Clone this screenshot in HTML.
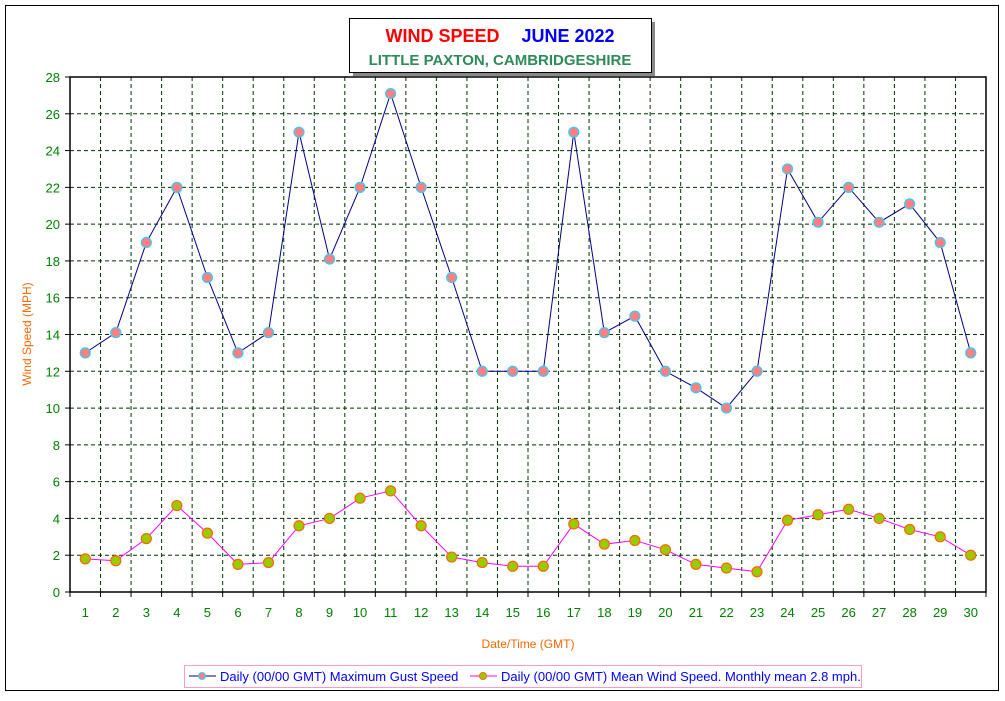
<!DOCTYPE html>
<html><head><meta charset="utf-8"><style>
body{margin:0;background:#fff;font-family:"Liberation Sans",Arial,sans-serif}
svg text{font-family:"Liberation Sans",Arial,sans-serif}
</style></head><body>
<svg id="c" width="1005" height="696" xmlns="http://www.w3.org/2000/svg">
<rect x="5.5" y="5.5" width="993" height="685" fill="#fff" stroke="#000"/>
<g>
<rect x="353" y="22" width="302" height="54" fill="#888"/>
<rect x="349.5" y="18.5" width="302" height="54" fill="#fff" stroke="#000"/>
<text x="500" y="42" text-anchor="middle" font-size="18" font-weight="bold"><tspan fill="#ff0000">WIND SPEED</tspan><tspan fill="#0000ff" dx="22">JUNE 2022</tspan></text>
<text x="500" y="65" text-anchor="middle" font-size="15" font-weight="bold" fill="#2e8b57">LITTLE PAXTON, CAMBRIDGESHIRE</text>
</g>
<g id="grid"></g><g id="axes"></g><g id="series"></g>
<text x="31" y="334" transform="rotate(-90 31 334)" text-anchor="middle" font-size="12" fill="#ff6600">Wind Speed (MPH)</text>
<text x="528" y="648" text-anchor="middle" font-size="12" fill="#ff6600">Date/Time (GMT)</text>
<g>
<rect x="184.5" y="665.5" width="677" height="22" fill="#fff" stroke="#ff99cc"/>
<g>
<line x1="189" y1="676" x2="216" y2="676" stroke="#000080"/><circle cx="202" cy="676" r="3.5" fill="#ff8080" stroke="#33ccff"/>
<text x="220" y="681" font-size="13" fill="#0000ff">Daily (00/00 GMT) Maximum Gust Speed</text></g>
<g>
<line x1="470" y1="676" x2="497" y2="676" stroke="#ff00ff"/><circle cx="483" cy="676" r="3.5" fill="#99cc00" stroke="#ff6600"/>
<text x="501" y="681" font-size="13" fill="#0000ff">Daily (00/00 GMT) Mean Wind Speed. Monthly mean 2.8 mph.</text></g>
</g>
</svg>
<script>
const days=[1,2,3,4,5,6,7,8,9,10,11,12,13,14,15,16,17,18,19,20,21,22,23,24,25,26,27,28,29,30];
const gust=[13,14.1,19,22,17.1,13,14.1,25,18.1,22,27.1,22,17.1,12,12,12,25,14.1,15,12,11.1,10,12,23,20.1,22,20.1,21.1,19,13];
const mean=[1.8,1.7,2.9,4.7,3.2,1.5,1.6,3.6,4.0,5.1,5.5,3.6,1.9,1.6,1.4,1.4,3.7,2.6,2.8,2.3,1.5,1.3,1.1,3.9,4.2,4.5,4.0,3.4,3.0,2.0];
const yTicks=[0,2,4,6,8,10,12,14,16,18,20,22,24,26,28];
const NS='http://www.w3.org/2000/svg';
const L=70,R=986,T=77,B=592,yMax=28;
const bw=(R-L)/days.length;
const xc=i=>L+bw*(i+0.5);
const y=v=>B-(v/yMax)*(B-T);
function mk(p,t,a){const e=document.createElementNS(NS,t);for(const k in a)e.setAttribute(k,a[k]);p.appendChild(e);return e;}
const grid=document.getElementById('grid'),axes=document.getElementById('axes'),ser=document.getElementById('series');
yTicks.forEach(v=>{
 if(v>0&&v<yMax){const l=mk(grid,'line',{x1:L,x2:R,y1:y(v),y2:y(v),stroke:'#003300','stroke-dasharray':'4,3'});
 
 }
 mk(axes,'line',{x1:L-5,x2:L,y1:y(v),y2:y(v),stroke:'#000'});
 const t=mk(axes,'text',{x:L-10,y:y(v)+5,'text-anchor':'end','font-size':13,fill:'#008000'});t.textContent=v;
 
 
});
for(let i=0;i<=days.length;i++){
 const x=L+bw*i;
 if(i>0&&i<days.length){const l=mk(grid,'line',{x1:x,x2:x,y1:T,y2:B,stroke:'#003300','stroke-dasharray':'4,3'});
 
 }
 mk(axes,'line',{x1:x,x2:x,y1:B,y2:B+5,stroke:'#000'});
}
days.forEach((d,i)=>{const t=mk(axes,'text',{x:xc(i),y:B+25,'text-anchor':'middle','font-size':13,fill:'#008000'});t.textContent=d;
 
 });
mk(axes,'rect',{x:L,y:T,width:R-L,height:B-T,fill:'none',stroke:'#000','stroke-width':1.5});
function series(vals,lc,fc,sc,name){
 const p=mk(ser,'polyline',{points:vals.map((v,i)=>xc(i)+','+y(v)).join(' '),fill:'none',stroke:lc,'stroke-width':1});
 
 
 vals.forEach((v,i)=>{const c=mk(ser,'circle',{cx:xc(i),cy:y(v),r:5,fill:fc,stroke:sc,'stroke-width':1.2});
 
 });
}
series(gust,'#000080','#ff8080','#33ccff','gust');
series(mean,'#ff00ff','#99cc00','#ff6600','mean');
</script>
</body></html>
